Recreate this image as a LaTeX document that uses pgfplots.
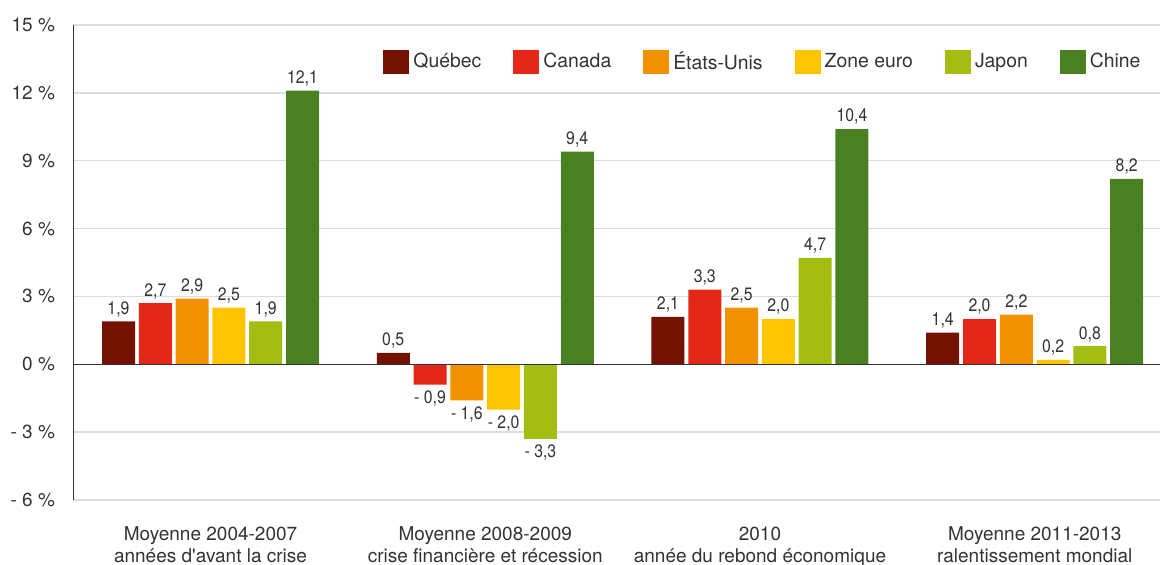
\documentclass[border=0pt]{standalone}
\usepackage{fontspec}
\setmainfont{TeX Gyre Heros}
\newfontfamily\valfont[FakeStretch=0.88]{TeX Gyre Heros}
\usepackage{pgfplots}
\usepackage{pgfplotstable}
\pgfplotsset{compat=1.18}
\definecolor{cQc}{HTML}{731200}
\definecolor{cCa}{HTML}{E32718}
\definecolor{cUS}{HTML}{F39200}
\definecolor{cEU}{HTML}{FDC500}
\definecolor{cJP}{HTML}{A3BD12}
\definecolor{cCN}{HTML}{4A7F22}
\definecolor{txt}{HTML}{333333}
\definecolor{gridc}{HTML}{DDDDDD}
\newcommand\nlab[1]{\raisebox{-11.5pt}[0pt][0pt]{#1}}
\pgfplotstableread[col sep=semicolon]{
x;y;lab
0;1.9;1,9
1;0.5;0,5
2;2.1;2,1
3;1.4;1,4
}\tQc
\pgfplotstableread[col sep=semicolon]{
x;y;lab
0;2.7;2,7
1;-0.9;\nlab{- 0,9}
2;3.3;3,3
3;2.0;2,0
}\tCa
\pgfplotstableread[col sep=semicolon]{
x;y;lab
0;2.9;2,9
1;-1.6;\nlab{- 1,6}
2;2.5;2,5
3;2.2;2,2
}\tUS
\pgfplotstableread[col sep=semicolon]{
x;y;lab
0;2.5;2,5
1;-2.0;\nlab{- 2,0}
2;2.0;2,0
3;0.2;0,2
}\tEU
\pgfplotstableread[col sep=semicolon]{
x;y;lab
0;1.9;1,9
1;-3.3;\nlab{- 3,3}
2;4.7;4,7
3;0.8;0,8
}\tJP
\pgfplotstableread[col sep=semicolon]{
x;y;lab
0;12.1;12,1
1;9.4;9,4
2;10.4;10,4
3;8.2;8,2
}\tCN
\pgfplotsset{
  valbar/.style={fill=#1, draw=none, point meta=explicit symbolic,
    nodes near coords,
    every node near coord/.append style={font=\valfont\fontsize{9}{10}\selectfont, text=txt, inner xsep=1pt, inner ysep=2pt, anchor=south}},
}
\begin{document}
\begin{tikzpicture}
\useasboundingbox (-36.5pt,-32.5pt) rectangle (543.5pt,250pt);
\begin{axis}[
  at={(0,0)}, anchor=south west,
  scale only axis, width=543.5pt, height=237.5pt,
  xmin=-0.5005, xmax=3.456, ymin=-6, ymax=15,
  ybar=1.9pt, bar width=16.5pt,
  axis line style={draw=none},
  major tick length=0pt,
  ymajorgrids, grid style={color=gridc, line width=0.75pt},
  ytick={-6,-3,0,3,6,9,12,15},
  yticklabels={- 6 \%,- 3 \%,0 \%,3 \%,6 \%,9 \%,12 \%,15 \%},
  yticklabel style={font=\fontsize{9.5}{11}\selectfont, text=txt, xshift=-5.5pt},
  xtick={0,1,2,3},
  xticklabels={{Moyenne 2004-2007\\années d\textquotesingle{}avant la crise},{Moyenne 2008-2009\\crise financière et récession},{2010\\année du rebond économique},{Moyenne 2011-2013\\ralentissement mondial}},
  xticklabel style={font=\fontsize{9.5}{10.9}\selectfont, text=txt, align=center, yshift=-10pt},
  legend columns=6,
  legend style={at={(rel axis cs:0.2852,0.922)}, anchor=west, draw=none, fill=none, inner sep=0pt,
    font=\fontsize{9.7}{11}\selectfont, text=txt,
    /tikz/every even column/.append style={column sep=14pt}},
  legend image code/.code={\fill[#1] (0pt,-6pt) rectangle (13pt,6pt);},
]
\addplot[valbar=cQc] table[x=x, y=y, meta=lab] {\tQc};
\addplot[valbar=cCa] table[x=x, y=y, meta=lab] {\tCa};
\addplot[valbar=cUS] table[x=x, y=y, meta=lab] {\tUS};
\addplot[valbar=cEU] table[x=x, y=y, meta=lab] {\tEU};
\addplot[valbar=cJP] table[x=x, y=y, meta=lab] {\tJP};
\addplot[valbar=cCN] table[x=x, y=y, meta=lab] {\tCN};
\legend{Québec,Canada,États-Unis,Zone euro,Japon,Chine}
\draw[txt, line width=0.75pt] (axis cs:-0.5005,0) -- (axis cs:3.456,0);
\draw[txt, line width=0.7pt] (rel axis cs:0,0) -- (rel axis cs:0,1);
\end{axis}
\end{tikzpicture}
\end{document}
